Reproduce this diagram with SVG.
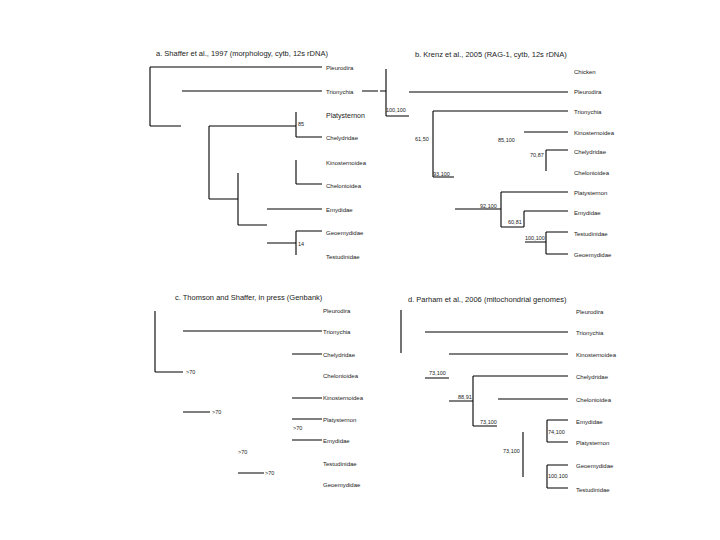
<svg xmlns="http://www.w3.org/2000/svg" width="720" height="540" viewBox="0 0 720 540">
<style>
text{font-family:"Liberation Sans",Arial,sans-serif;fill:#222}
.t{font-size:7.5px}
.l{font-size:6px}
.lb{font-size:7px}
.n{font-size:5.5px}
.c path{stroke:#000;stroke-width:1.1;fill:none}
</style>
<rect width="720" height="540" fill="#fff"/>
<g id="titles">
<text class="t" x="156" y="56">a. Shaffer et al., 1997 (morphology, cytb, 12s rDNA)</text>
<text class="t" x="415" y="57">b. Krenz et al., 2005 (RAG-1, cytb, 12s rDNA)</text>
<text class="t" x="175" y="300">c. Thomson and Shaffer, in press (Genbank)</text>
<text class="t" x="408" y="302">d. Parham et al., 2006 (mitochondrial genomes)</text>
</g>
<g class="c" id="connectors">
<path d="M150,67V126M150,67H322M182,91H322M362,91H378M150,126H181M209,126H296M209,126V199M296,112V137M296,137H322M296,160V184M296,184H322M209,199H238M238,173V225M238,225H267M267,209H322M267,243H296M296,231V255M296,231H322"/>
<path d="M386,69V116M380,91H386M386,116H409M409,92H568M433,111H568M433,111V177M433,177H454M524,132H568M546,150H568M546,150V171M501,192H568M501,192V227M455,209H501M524,211H568M524,211V227M501,227H524M525,242H546M546,232V254M546,232H568M546,254H568"/>
<path d="M155,311V372M155,372H183M183,331H322M292,354H322M292,398H322M183,412H210M292,419H322M292,440H322M238,473H264"/>
<path d="M401,310V353M425,332H568M449,354H568M425,378H449M473,376H568M473,376V426M449,401H473M473,426H497M498,399H568M523,432V477M547,420V442M547,420H568M547,442H568M547,465V488M547,465H568M547,488H568"/>
</g>
<g id="panel-a-labels">
<text id="a-pleurodira" class="l" x="326" y="70">Pleurodira</text>
<text id="a-trionychia" class="l" x="326" y="94">Trionychia</text>
<text id="a-platysternon" class="lb" x="326" y="118">Platysternon</text>
<text id="a-chelydridae" class="l" x="326" y="140">Chelydridae</text>
<text id="a-kinosternoidea" class="l" x="326" y="165">Kinosternoidea</text>
<text id="a-chelonioidea" class="l" x="326" y="188">Chelonioidea</text>
<text id="a-emydidae" class="l" x="326" y="212">Emydidae</text>
<text id="a-geoemydidae" class="l" x="326" y="235">Geoemydidae</text>
<text id="a-testudinidae" class="l" x="326" y="259">Testudinidae</text>
<text class="n" x="298" y="126">85</text>
<text class="n" x="298" y="246">14</text>
</g>
<g id="panel-b-labels">
<text id="b-chicken" class="l" x="574" y="74">Chicken</text>
<text id="b-pleurodira" class="l" x="574" y="94">Pleurodira</text>
<text id="b-trionychia" class="l" x="574" y="114">Trionychia</text>
<text id="b-kinosternoidea" class="l" x="574" y="135">Kinosternoidea</text>
<text id="b-chelydridae" class="l" x="574" y="154">Chelydridae</text>
<text id="b-chelonioidea" class="l" x="574" y="175">Chelonioidea</text>
<text id="b-platysternon" class="l" x="574" y="195">Platysternon</text>
<text id="b-emydidae" class="l" x="574" y="215">Emydidae</text>
<text id="b-testudinidae" class="l" x="574" y="236">Testudinidae</text>
<text id="b-geoemydidae" class="l" x="574" y="257">Geoemydidae</text>
<text class="n" x="386" y="112">100,100</text>
<text class="n" x="415" y="141">61,50</text>
<text class="n" x="498" y="142">85,100</text>
<text class="n" x="530" y="157">70,87</text>
<text class="n" x="433" y="176">93,100</text>
<text class="n" x="480" y="208">92,100</text>
<text class="n" x="508" y="224">60,81</text>
<text class="n" x="525" y="240">100,100</text>
</g>
<g id="panel-c-labels">
<text id="c-pleurodira" class="l" x="323" y="313">Pleurodira</text>
<text id="c-trionychia" class="l" x="323" y="334">Trionychia</text>
<text id="c-chelydridae" class="l" x="323" y="357">Chelydridae</text>
<text id="c-chelonioidea" class="l" x="323" y="378">Chelonioidea</text>
<text id="c-kinosternoidea" class="l" x="323" y="400">Kinosternoidea</text>
<text id="c-platysternon" class="l" x="323" y="422">Platysternon</text>
<text id="c-emydidae" class="l" x="323" y="443">Emydidae</text>
<text id="c-testudinidae" class="l" x="323" y="466">Testudinidae</text>
<text id="c-geoemydidae" class="l" x="323" y="487">Geoemydidae</text>
<text class="n" x="186" y="374">&gt;70</text>
<text class="n" x="212" y="414">&gt;70</text>
<text class="n" x="293" y="430">&gt;70</text>
<text class="n" x="238" y="454">&gt;70</text>
<text class="n" x="265" y="475">&gt;70</text>
</g>
<g id="panel-d-labels">
<text id="d-pleurodira" class="l" x="576" y="314">Pleurodira</text>
<text id="d-trionychia" class="l" x="576" y="335">Trionychia</text>
<text id="d-kinosternoidea" class="l" x="576" y="357">Kinosternoidea</text>
<text id="d-chelydridae" class="l" x="576" y="379">Chelydridae</text>
<text id="d-chelonioidea" class="l" x="576" y="402">Chelonioidea</text>
<text id="d-emydidae" class="l" x="576" y="424">Emydidae</text>
<text id="d-platysternon" class="l" x="576" y="445">Platysternon</text>
<text id="d-geoemydidae" class="l" x="576" y="468">Geoemydidae</text>
<text id="d-testudinidae" class="l" x="576" y="492">Testudinidae</text>
<text class="n" x="429" y="375">73,100</text>
<text class="n" x="458" y="399">88,91</text>
<text class="n" x="480" y="424">73,100</text>
<text class="n" x="503" y="453">73,100</text>
<text class="n" x="548" y="434">74,100</text>
<text class="n" x="548" y="478">100,100</text>
</g>
</svg>
